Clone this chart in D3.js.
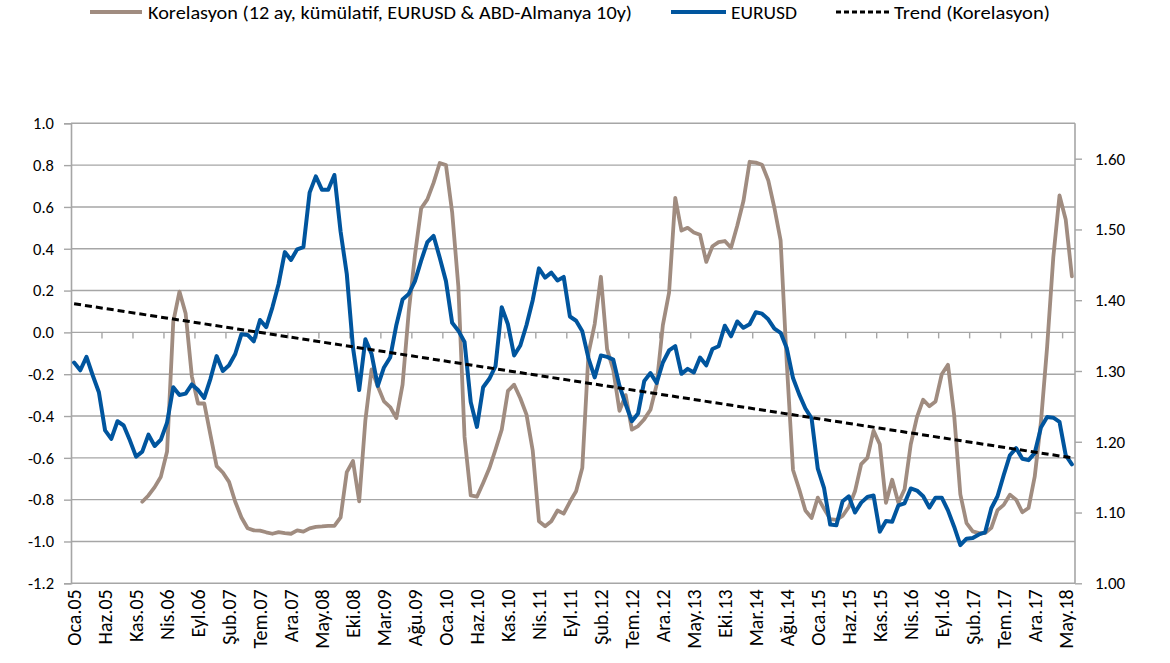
<!DOCTYPE html>
<html><head><meta charset="utf-8">
<script src="https://cdn.jsdelivr.net/npm/d3@7"></script>
<style>
html,body{margin:0;padding:0;background:#fff;}
svg text{font-family:Carlito,Calibri,Lato,"Open Sans",sans-serif;fill:#000;}
</style></head>
<body>
<svg id="chart" width="1170" height="663"></svg>
<script>
// ---- data ----
const monthNames = ["Oca","Şub","Mar","Nis","May","Haz","Tem","Ağu","Eyl","Eki","Kas","Ara"];
const startYear = 2005, monthCount = 162;
const categories = d3.range(monthCount).map(i => monthNames[i % 12] + "." + String((startYear + Math.floor(i / 12)) % 100).padStart(2, "0"));
const labelEvery = 5;

const eurusd = [
 1.312,1.301,1.320,1.294,1.270,1.216,1.204,1.229,1.223,1.202,1.179,1.186,
 1.210,1.194,1.203,1.227,1.277,1.266,1.268,1.281,1.273,1.262,1.289,1.321,
 1.300,1.308,1.324,1.352,1.351,1.342,1.372,1.362,1.390,1.423,1.468,1.457,
 1.472,1.475,1.552,1.575,1.556,1.556,1.577,1.497,1.437,1.333,1.273,1.345,
 1.324,1.279,1.305,1.319,1.365,1.401,1.409,1.427,1.456,1.482,1.491,1.460,
 1.427,1.368,1.357,1.341,1.256,1.221,1.277,1.289,1.307,1.390,1.366,1.322,
 1.336,1.365,1.400,1.445,1.432,1.439,1.428,1.433,1.377,1.371,1.356,1.318,
 1.291,1.322,1.320,1.316,1.279,1.253,1.229,1.240,1.286,1.297,1.283,1.312,
 1.329,1.335,1.296,1.303,1.298,1.319,1.308,1.331,1.335,1.364,1.349,1.370,
 1.361,1.366,1.383,1.381,1.373,1.360,1.354,1.332,1.290,1.267,1.247,1.233,
 1.162,1.135,1.083,1.082,1.116,1.123,1.100,1.114,1.122,1.124,1.073,1.088,
 1.087,1.110,1.113,1.134,1.131,1.123,1.107,1.121,1.121,1.103,1.080,1.054,
 1.063,1.064,1.069,1.072,1.106,1.123,1.153,1.181,1.191,1.176,1.174,1.184,
 1.220,1.235,1.234,1.228,1.181,1.168
];

const korelasyon = [
 null,null,null,null,null,null,null,null,null,null,null,-0.81,
 -0.78,-0.74,-0.69,-0.57,0.05,0.195,0.09,-0.21,-0.34,-0.34,-0.49,-0.64,
 -0.67,-0.715,-0.81,-0.885,-0.937,-0.947,-0.948,-0.956,-0.963,-0.955,-0.96,-0.963,
 -0.947,-0.953,-0.937,-0.93,-0.928,-0.925,-0.925,-0.885,-0.668,-0.615,-0.808,-0.42,
 -0.177,-0.258,-0.33,-0.357,-0.41,-0.25,0.10,0.37,0.593,0.636,0.715,0.81,
 0.80,0.575,0.22,-0.50,-0.78,-0.786,-0.72,-0.65,-0.56,-0.465,-0.28,-0.25,
 -0.315,-0.393,-0.565,-0.903,-0.927,-0.903,-0.852,-0.867,-0.81,-0.76,-0.648,-0.10,
 0.04,0.266,-0.08,-0.18,-0.375,-0.30,-0.465,-0.448,-0.415,-0.37,-0.25,0.035,
 0.19,0.643,0.487,0.50,0.478,0.467,0.337,0.412,0.432,0.437,0.405,0.51,
 0.628,0.816,0.812,0.802,0.728,0.595,0.44,-0.15,-0.658,-0.75,-0.852,-0.888,
 -0.79,-0.843,-0.893,-0.897,-0.878,-0.835,-0.76,-0.63,-0.60,-0.47,-0.535,-0.815,
 -0.705,-0.815,-0.75,-0.535,-0.405,-0.322,-0.353,-0.33,-0.20,-0.155,-0.395,-0.775,
 -0.912,-0.952,-0.96,-0.96,-0.935,-0.85,-0.825,-0.776,-0.80,-0.86,-0.84,-0.69,
 -0.43,-0.07,0.36,0.655,0.54,0.268
];

// linear trend of the correlation, read at first and last month
const trendEnds = [0.137, -0.600];

const leftTicks = [-1.2,-1.0,-0.8,-0.6,-0.4,-0.2,0.0,0.2,0.4,0.6,0.8,1.0];
const rightTicks = [1.00,1.10,1.20,1.30,1.40,1.50,1.60];

const seriesNames = ["Korelasyon (12 ay, kümülatif, EURUSD & ABD-Almanya 10y)", "EURUSD", "Trend (Korelasyon)"];
const colors = {kor: "#A08C80", eur: "#00559E", trend: "#000000", grid: "#A6A6A6"};

// ---- layout ----
const svg = d3.select("#chart");
const L = 71, R = 1075, T = 123.3, B = 583.3;

const x = d3.scaleBand().domain(categories).range([L, R]).padding(0);
const bw = x.bandwidth();
const cx = c => x(c) + bw / 2;
const yL = d3.scaleLinear().domain([-1.2, 1.0]).range([B, T]);
const yR = d3.scaleLinear().domain([1.0, 1.65]).range([B, T]);

// gridlines
svg.append("g").selectAll("line").data(leftTicks).join("line")
  .attr("x1", L).attr("x2", R)
  .attr("y1", d => yL(d)).attr("y2", d => yL(d))
  .attr("stroke", colors.grid).attr("stroke-width", 1.4);

// left axis
const gL = svg.append("g").attr("transform", `translate(${L},0)`)
  .call(d3.axisLeft(yL).tickValues(leftTicks).tickSize(7).tickPadding(10).tickFormat(d => d.toFixed(1)));
gL.select(".domain").attr("stroke", colors.grid).attr("stroke-width", 1.6);
gL.selectAll(".tick line").attr("stroke", colors.grid).attr("stroke-width", 1.4);
gL.selectAll(".tick text").attr("font-size", 16.5).attr("fill", "#000");

// right axis
const gR = svg.append("g").attr("transform", `translate(${R},0)`)
  .call(d3.axisRight(yR).tickValues(rightTicks).tickSize(7).tickPadding(13).tickFormat(d => d.toFixed(2)));
gR.select(".domain").attr("stroke", colors.grid).attr("stroke-width", 1.6).attr("d", `M0,${T}V${B}`);
gR.selectAll(".tick line").attr("stroke", colors.grid).attr("stroke-width", 1.4);
gR.selectAll(".tick text").attr("font-size", 17).attr("fill", "#000");

// category axis at zero: tick marks every 5 months at band boundaries
const tickCats = categories.filter((c, i) => i > 0 && i % labelEvery === 0);
svg.append("g").selectAll("line").data(tickCats).join("line")
  .attr("x1", d => x(d)).attr("x2", d => x(d))
  .attr("y1", yL(0)).attr("y2", yL(0) + 6)
  .attr("stroke", colors.grid).attr("stroke-width", 1.4);

// category labels at the bottom
const labelCats = categories.filter((c, i) => i % labelEvery === 0);
const gX = svg.append("g").attr("transform", `translate(0,${B})`)
  .call(d3.axisBottom(x).tickValues(labelCats).tickSize(0).tickPadding(0));
gX.select(".domain").remove();
gX.selectAll(".tick text")
  .attr("font-size", 20).attr("fill", "#000")
  .attr("text-anchor", "end")
  .attr("transform", "rotate(-90)")
  .attr("x", -6).attr("y", 0).attr("dy", "0.36em");

// lines
const lineKor = d3.line().defined(d => d.v !== null).x(d => cx(d.c)).y(d => yL(d.v));
const lineEur = d3.line().x(d => cx(d.c)).y(d => yR(d.v));

svg.append("path")
  .datum(categories.map((c, i) => ({c, v: korelasyon[i]})))
  .attr("d", lineKor).attr("fill", "none")
  .attr("stroke", colors.kor).attr("stroke-width", 3.8)
  .attr("stroke-linejoin", "round").attr("stroke-linecap", "round");

svg.append("path")
  .datum(categories.map((c, i) => ({c, v: eurusd[i]})))
  .attr("d", lineEur).attr("fill", "none")
  .attr("stroke", colors.eur).attr("stroke-width", 4)
  .attr("stroke-linejoin", "round").attr("stroke-linecap", "round");

svg.append("path")
  .datum([{c: categories[0], v: trendEnds[0]}, {c: categories[categories.length - 1], v: trendEnds[1]}])
  .attr("d", lineKor).attr("fill", "none")
  .attr("stroke", colors.trend).attr("stroke-width", 3)
  .attr("stroke-dasharray", "7,4");

// legend
const legend = [
  {name: seriesNames[0], x1: 90, x2: 142, tx: 148, tw: 484, color: colors.kor, w: 4, dash: null},
  {name: seriesNames[1], x1: 671, x2: 726, tx: 731, tw: 66, color: colors.eur, w: 4, dash: null},
  {name: seriesNames[2], x1: 836, x2: 889, tx: 894, tw: 156, color: colors.trend, w: 3, dash: "5,3"}
];
const lg = svg.append("g");
legend.forEach(d => {
  lg.append("line").attr("x1", d.x1).attr("x2", d.x2).attr("y1", 12).attr("y2", 12)
    .attr("stroke", d.color).attr("stroke-width", d.w)
    .attr("stroke-dasharray", d.dash);
  lg.append("text").attr("x", d.tx).attr("y", 18.5).attr("font-size", 18)
    .attr("textLength", d.tw).attr("lengthAdjust", "spacingAndGlyphs")
    .text(d.name);
});
</script>
</body></html>
